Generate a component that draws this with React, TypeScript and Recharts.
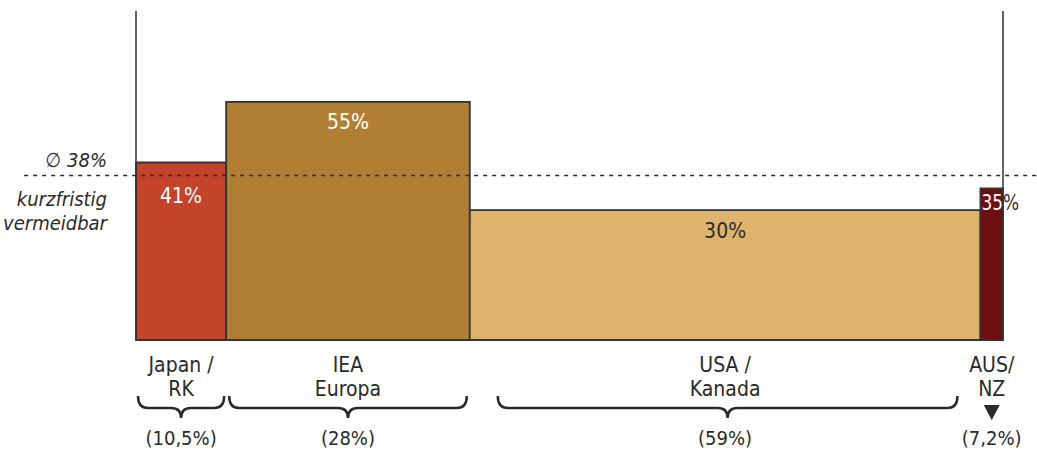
import React from "react";
import { ComposedChart, ReferenceArea, ReferenceLine, XAxis, YAxis } from "recharts";

const regions = ["Japan / RK", "IEA Europa", "USA / Kanada", "AUS / NZ"];
const nameLines = [["Japan /", "RK"], ["IEA", "Europa"], ["USA /", "Kanada"], ["AUS/", "NZ"]];
const avoidable = [41, 55, 30, 35];
const barWidths = [10.4, 28.1, 58.9, 2.6];
const shares = ["(10,5%)", "(28%)", "(59%)", "(7,2%)"];
const average = 38;

const colors = ["#c4432b", "#b07f33", "#e0b36d", "#6e0e10"];
const valueColors = ["#fff", "#fff", "#2a2a2a", "#fff"];
const valueOffsets = [33, 20, 21, 14];
const braceInsets: ([number, number] | null)[] = [[2, 2], [3, 3], [28, 23], null];

const FONT = "'DejaVu Sans Condensed', 'Roboto', sans-serif";
const INK = "#2a2a2a";

const starts = barWidths.map((_, i) => barWidths.slice(0, i).reduce((a, b) => a + b, 0));

function brace(x1: number, x2: number, y0: number) {
  const cx = (x1 + x2) / 2;
  const ym = y0 + 12;
  const tip = y0 + 22;
  const r = 10;
  return `M${x1},${y0} Q${x1},${ym} ${x1 + r},${ym} L${cx - r},${ym} Q${cx},${ym} ${cx},${tip} Q${cx},${ym} ${cx + r},${ym} L${x2 - r},${ym} Q${x2},${ym} ${x2},${y0}`;
}

function segmentLabel(i: number) {
  return (props: any) => {
    const { x, y, width, height } = props.viewBox;
    const cx = x + width / 2;
    const base = y + height;
    const inset = braceInsets[i];
    return (
      <g style={{ fontFamily: FONT }}>
        {i === 3 ? (
          <text x={x + 1} y={y + valueOffsets[i]} dominantBaseline="central" fontSize={21} fill={valueColors[i]} transform={`translate(${x + 1},0) scale(0.9,1) translate(${-(x + 1)},0)`}>
            {String(avoidable[i])}
            <tspan fill={INK}>%</tspan>
          </text>
        ) : (
          <text x={cx} y={y + valueOffsets[i]} textAnchor="middle" dominantBaseline="central" fontSize={21} fill={valueColors[i]}>
            {avoidable[i]}%
          </text>
        )}
        <text x={cx} y={base + 25} textAnchor="middle" dominantBaseline="central" fontSize={21} fill={INK}>
          {nameLines[i][0]}
        </text>
        <text x={cx} y={base + 49} textAnchor="middle" dominantBaseline="central" fontSize={21} fill={INK}>
          {nameLines[i][1]}
        </text>
        {inset ? (
          <path d={brace(x + inset[0], x + width - inset[1], base + 56)} fill="none" stroke={INK} strokeWidth={2.5} />
        ) : (
          <path d={`M${cx - 8},${base + 65} L${cx + 8},${base + 65} L${cx},${base + 80} Z`} fill={INK} />
        )}
        <text x={cx} y={base + 98} textAnchor="middle" dominantBaseline="central" fontSize={20} fill={INK}>
          {shares[i]}
        </text>
      </g>
    );
  };
}

function averageLabel(props: any) {
  const y = props.viewBox.y;
  return (
    <g style={{ fontFamily: FONT, fontStyle: "italic" }} fill={INK} fontSize={20}>
      <text x={107} y={y - 16} textAnchor="end" dominantBaseline="central">∅ {average}%</text>
      <text x={107} y={y + 23} textAnchor="end" dominantBaseline="central">kurzfristig</text>
      <text x={107} y={y + 47} textAnchor="end" dominantBaseline="central">vermeidbar</text>
    </g>
  );
}

export default function App() {
  return (
    <div style={{ position: "absolute", left: 0, top: 0, width: 1037, height: 450, background: "#fff" }}>
      <ComposedChart width={1037} height={450} data={[]} margin={{ top: 11, right: 34, bottom: 110, left: 136 }}>
        <XAxis type="number" dataKey="x" domain={[0, 100]} hide allowDataOverflow />
        <YAxis type="number" domain={[0, 76]} hide allowDataOverflow />
        {regions.map((r, i) => (
          <ReferenceArea
            key={r}
            x1={starts[i]}
            x2={starts[i] + barWidths[i]}
            y1={0}
            y2={avoidable[i]}
            fill={colors[i]}
            fillOpacity={1}
            stroke="#333"
            strokeWidth={1.8}
            ifOverflow="visible"
            label={segmentLabel(i)}
          />
        ))}
        <ReferenceLine x={0} stroke="#333" strokeWidth={1.5} />
        <ReferenceLine x={100} stroke="#333" strokeWidth={1.5} />
        <ReferenceLine
          segment={[{ x: -12.9, y: average }, { x: 104, y: average }]}
          ifOverflow="visible"
          stroke={INK}
          strokeWidth={1.5}
          strokeDasharray="4 5"
          label={averageLabel}
        />
      </ComposedChart>
    </div>
  );
}
